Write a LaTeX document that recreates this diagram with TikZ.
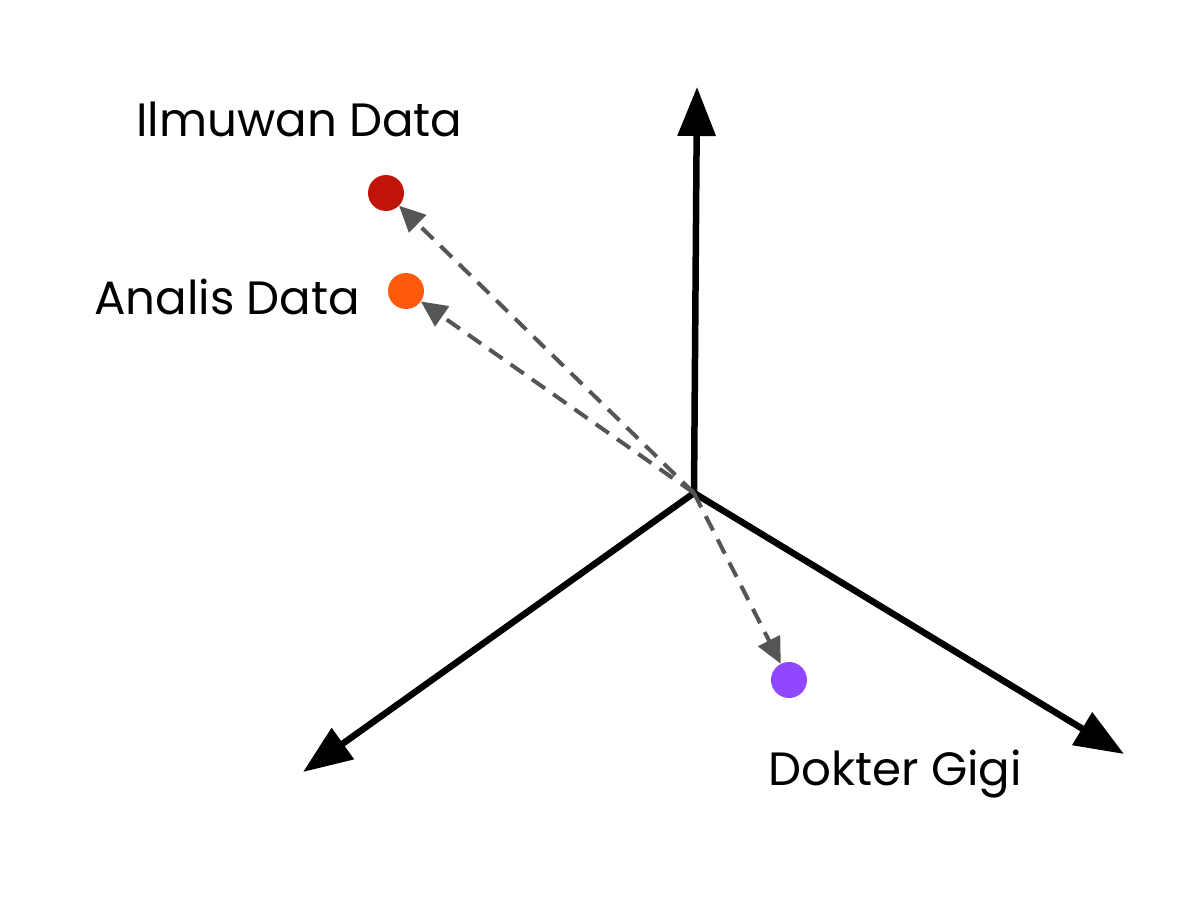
\documentclass[tikz,border=0pt]{standalone}
\usepackage{fontspec}
\setmainfont{Poppins}
\usetikzlibrary{arrows.meta}
\definecolor{dotred}{HTML}{C0140A}
\definecolor{dotorange}{HTML}{FF5A0A}
\definecolor{dotpurple}{HTML}{9146FF}
\definecolor{dashgray}{HTML}{555555}
\tikzset{
  axis/.style={line width=6.5pt, -{Triangle[length=49pt,width=37pt]}},
  vec/.style={dashgray, line width=4pt, dash pattern=on 16pt off 10pt, -{Triangle[length=26pt,width=24pt]}},
  dot/.style={circle, inner sep=0pt, minimum size=36pt},
  lbl/.style={font=\fontsize{46.7}{56}\selectfont, anchor=base west, inner sep=0pt}
}
\begin{document}
\begin{tikzpicture}[x=1pt,y=-1pt]
\useasboundingbox (0,0) rectangle (1184,912);
\coordinate (O) at (694,493);
\coordinate (up) at (697,87);
\coordinate (left) at (303,772);
\coordinate (right) at (1124,754);
\draw[axis] (O) -- (up);
\draw[axis] (O) -- (left);
\draw[axis] (O) -- (right);
\node[dot, fill=dotred] (ds) at (386,193) {};
\node[dot, fill=dotorange] (da) at (406,291) {};
\node[dot, fill=dotpurple] (dg) at (789,680) {};
\draw[vec] (O) -- (ds);
\draw[vec] (O) -- (da);
\draw[vec] (O) -- (dg);
\node[lbl] (lds) at (136,137) {Ilmuwan Data};
\node[lbl] (lda) at (94,314) {Analis Data};
\node[lbl] (ldg) at (768,785) {Dokter Gigi};
\end{tikzpicture}
\end{document}
